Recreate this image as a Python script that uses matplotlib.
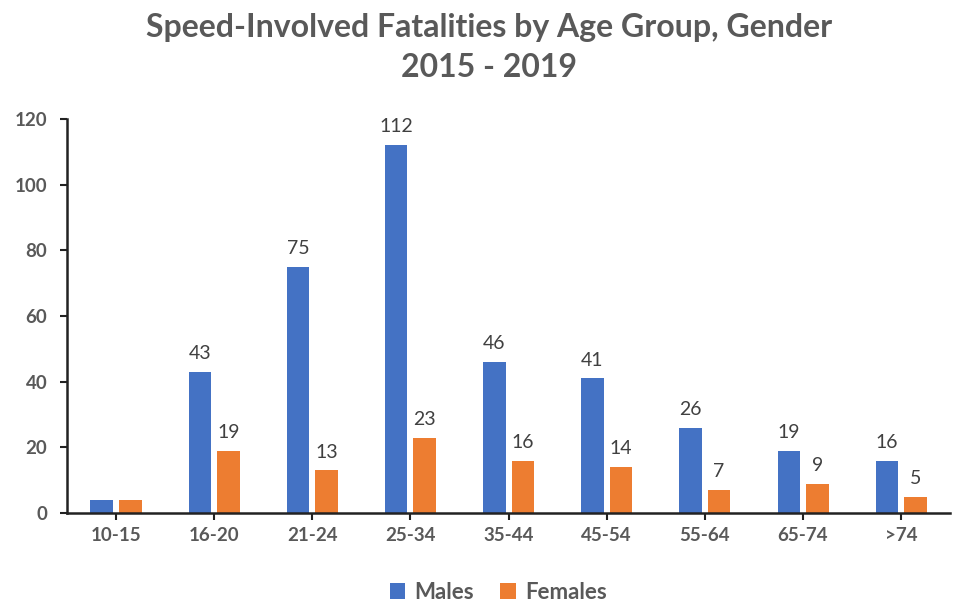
import numpy as np
import matplotlib.pyplot as plt

plt.rcParams['font.family'] = ['Lato', 'DejaVu Sans']

groups = ['10-15', '16-20', '21-24', '25-34', '35-44', '45-54', '55-64', '65-74', '>74']
males = [4, 43, 75, 112, 46, 41, 26, 19, 16]
females = [4, 19, 13, 23, 16, 14, 7, 9, 5]

blue = '#4472C4'
orange = '#ED7D31'
grey = '#595959'

fig = plt.figure(figsize=(9.56, 6.03), dpi=100)
ax = fig.add_axes([0.070, 0.149, 0.924, 0.654])

x = np.arange(len(groups))
w = 0.23
off = 0.145
b1 = ax.bar(x - off, males, w, color=blue, label='Males')
b2 = ax.bar(x + off, females, w, color=orange, label='Females')

# labels only where the original shows them
for i in range(1, len(groups)):
    ax.text(x[i] - off, males[i] + 3, str(males[i]), ha='center', va='bottom',
            fontsize=14, color='#404040')
    ax.text(x[i] + off, females[i] + 3, str(females[i]), ha='center', va='bottom',
            fontsize=14, color='#404040')

ax.set_xlim(-0.5, len(groups) - 0.5)
ax.set_ylim(0, 120)
ax.set_yticks(range(0, 121, 20))
ax.set_xticks(x)
ax.set_xticklabels(groups)
for lab in ax.get_xticklabels() + ax.get_yticklabels():
    lab.set_fontweight('bold')
    lab.set_color(grey)
    lab.set_fontsize(13.5)
ax.tick_params(axis='both', direction='out', length=5, width=1.5, color='#222222')
ax.tick_params(axis='x', pad=5)
ax.tick_params(axis='y', pad=9)

for s in ['top', 'right']:
    ax.spines[s].set_visible(False)
ax.spines['left'].set_linewidth(1.8)
ax.spines['bottom'].set_linewidth(1.8)
ax.spines['left'].set_color('#222222')
ax.spines['bottom'].set_color('#222222')

fig.text(0.512, 0.955, 'Speed-Involved Fatalities by Age Group, Gender', ha='center', va='center',
         fontsize=23, fontweight='bold', color=grey)
fig.text(0.512, 0.888, '2015 - 2019', ha='center', va='center',
         fontsize=23, fontweight='bold', color=grey)

leg = fig.legend(handles=[b1, b2], loc='center', bbox_to_anchor=(0.521, 0.018), ncol=2,
                 frameon=False, fontsize=16, handlelength=0.7, handleheight=0.7,
                 handletextpad=0.4, columnspacing=1.2)
for t in leg.get_texts():
    t.set_color(grey)
    t.set_fontweight('bold')

fig.savefig('out.png', dpi=100)
